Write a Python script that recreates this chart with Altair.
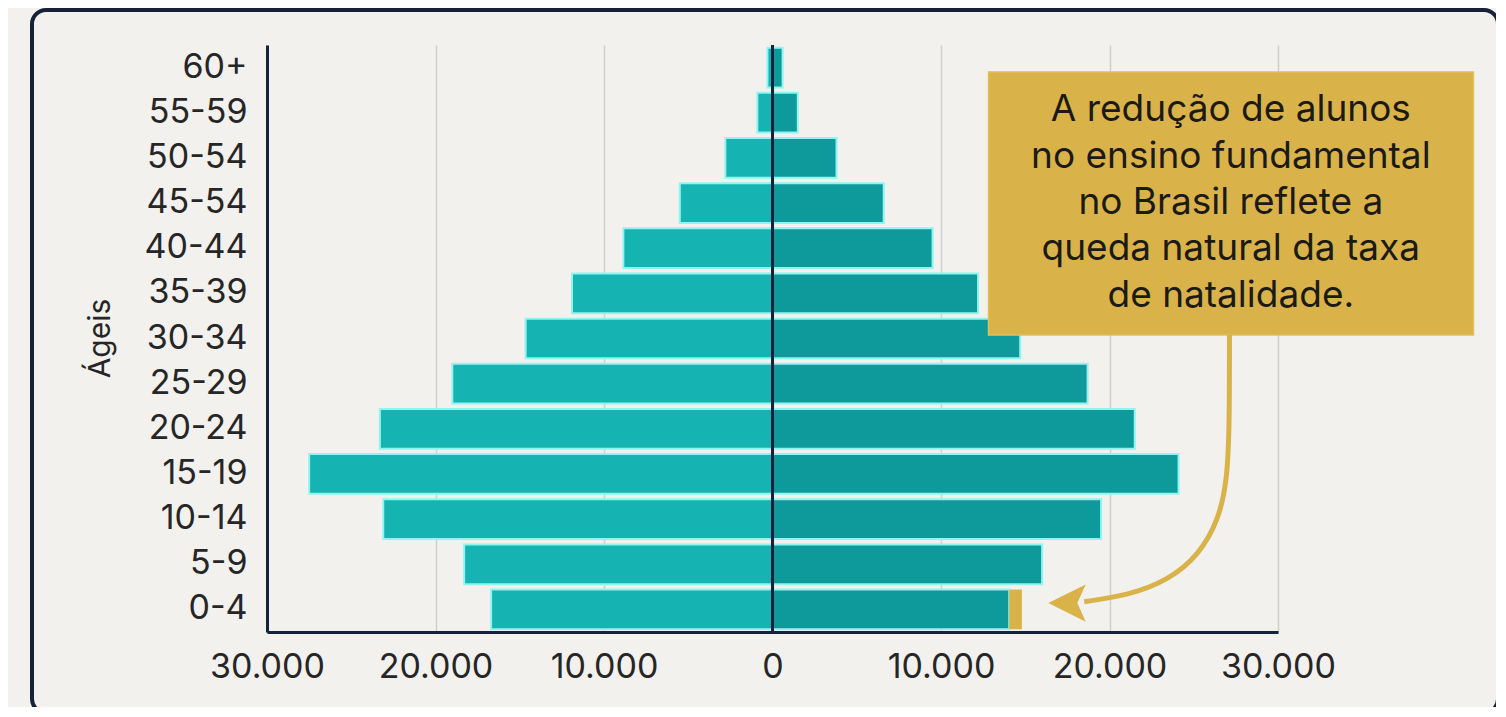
import altair as alt
import pandas as pd

ages = ["60+", "55-59", "50-54", "45-54", "40-44", "35-39", "30-34",
        "25-29", "20-24", "15-19", "10-14", "5-9", "0-4"]
left_vals = [300, 900, 2800, 5500, 8850, 11900, 14650, 19000, 23300, 27500, 23100, 18300, 16700]
right_vals = [600, 1500, 3800, 6600, 9500, 12200, 14700, 18700, 21500, 24100, 19500, 16000, 14050]
x_ticks = [-30000, -20000, -10000, 0, 10000, 20000, 30000]

highlight_age = "0-4"
highlight_start = 14050
highlight_end = 14800

note_lines = ["A redução de alunos", "no ensino fundamental", "no Brasil reflete a",
              "queda natural da taxa", "de natalidade."]
note_rows = [1.45, 2.48, 3.50, 4.52, 5.55]
note_x = 27200
box_x = [12820, 41600]
box_rows = [0.60, 6.42]
arrow_x = [27120, 27120, 27000, 26500, 25300, 23500, 21200, 18500]
arrow_rows = [6.42, 8.3, 9.6, 10.5, 11.3, 11.85, 12.18, 12.33]
arrow_head = (17480, 12.36)

FONT = "Inter"
NAVY = "#17223a"
GOLD = "#d9b34a"

rows = []
for a, l, r in zip(ages, left_vals, right_vals):
    rows.append({"age": a, "side": "L", "start": -l, "end": 0})
    rows.append({"age": a, "side": "R", "start": 0, "end": r})
bars_df = pd.DataFrame(rows)

xscale = alt.Scale(domain=[-30000, 30000], nice=False, zero=False)
xaxis = alt.Axis(values=x_ticks, title=None,
                 labelExpr="replace(format(abs(datum.value), ','), ',', '.')",
                 labelFont=FONT, labelFontSize=34, labelColor="#262626",
                 labelPadding=18, ticks=False, domainColor=NAVY, domainWidth=3,
                 labelFlush=False, labelOverlap=False, labelBound=False,
                 grid=True, gridColor="#cfcfcf", gridWidth=1.5)
yband = alt.Scale(domain=ages, paddingInner=0.12, paddingOuter=0.06)
yrow = alt.Scale(domain=[0, 13], reverse=True, nice=False, zero=False)

bars = alt.Chart(bars_df).mark_bar(stroke="#8ef5f0", strokeWidth=2).encode(
    x=alt.X("start:Q", scale=xscale, axis=xaxis),
    x2="end:Q",
    y=alt.Y("age:N", sort=ages, scale=yband,
            axis=alt.Axis(title="Ágeis", titleFont=FONT, titleFontSize=30,
                          titleFontWeight="normal", titleColor="#262626",
                          titleX=-167, titleY=293, titleAngle=270,
                          titleAlign="center", titleBaseline="middle",
                          labelFont=FONT, labelFontSize=34, labelColor="#262626",
                          labelPadding=20, ticks=False, domainColor=NAVY,
                          domainWidth=3, grid=False)),
    color=alt.Color("side:N", scale=alt.Scale(domain=["L", "R"],
                                              range=["#15b4b2", "#0e9a9b"]),
                    legend=None),
)

hl_df = pd.DataFrame({"age": [highlight_age], "start": [highlight_start],
                      "end": [highlight_end]})
hl = alt.Chart(hl_df).mark_bar(color=GOLD).encode(
    x=alt.X("start:Q", scale=xscale, axis=xaxis),
    x2="end:Q",
    y=alt.Y("age:N", sort=ages, scale=yband, axis=None),
)

zero_df = pd.DataFrame({"x": [0]})
zero_rule = alt.Chart(zero_df).mark_rule(color=NAVY, strokeWidth=3).encode(
    x=alt.X("x:Q", scale=xscale, axis=xaxis),
)

box_df = pd.DataFrame({"x": [box_x[0]], "x2": [box_x[1]],
                       "y": [box_rows[0]], "y2": [box_rows[1]]})
box = alt.Chart(box_df).mark_rect(fill=GOLD, stroke="#e0bf5c", strokeWidth=1.5).encode(
    x=alt.X("x:Q", scale=xscale, axis=xaxis), x2="x2:Q",
    y=alt.Y("y:Q", scale=yrow, axis=None), y2="y2:Q",
)

text_df = pd.DataFrame({"t": note_lines, "row": note_rows,
                        "x": [note_x] * len(note_lines)})
texts = alt.Chart(text_df).mark_text(font=FONT, fontSize=37, fontWeight="normal",
                                     color="#1c1a14",
                                     align="center", baseline="middle").encode(
    x=alt.X("x:Q", scale=xscale, axis=xaxis),
    y=alt.Y("row:Q", scale=yrow, axis=None),
    text="t:N",
)

arrow_df = pd.DataFrame({"x": arrow_x, "row": arrow_rows,
                         "i": list(range(len(arrow_x)))})
arrow = alt.Chart(arrow_df).mark_line(color=GOLD, strokeWidth=5,
                                      interpolate="basis").encode(
    x=alt.X("x:Q", scale=xscale, axis=xaxis),
    y=alt.Y("row:Q", scale=yrow, axis=None),
    order="i:Q",
)

head_df = pd.DataFrame({"x": [arrow_head[0]], "row": [arrow_head[1]]})
head = alt.Chart(head_df).mark_point(
    shape="M -1 0 L 1 -1 L 0.55 0 L 1 1 Z", size=1400, filled=True,
    color=GOLD, opacity=1).encode(
    x=alt.X("x:Q", scale=xscale, axis=xaxis),
    y=alt.Y("row:Q", scale=yrow, axis=None),
)

border_df = pd.DataFrame({"k": [1]})
border = alt.Chart(border_df).mark_rect(
    fillOpacity=0, stroke=NAVY, strokeWidth=4, cornerRadius=14).encode(
    x=alt.value(-235), x2=alt.value(1231), y=alt.value(-35), y2=alt.value(668),
)

chart = alt.layer(bars, hl, zero_rule, box, texts, arrow, head, border).resolve_scale(
    y="independent"
).properties(
    width=1011, height=587,
    autosize=alt.AutoSizeParams(type="none"),
    padding={"left": 259, "top": 37, "right": 218, "bottom": 75},
    background="#f2f1ed",
).configure_view(stroke=None, fill="#f2f1ed")

chart.save("out.html", embed_options={"renderer": "svg", "actions": False})
